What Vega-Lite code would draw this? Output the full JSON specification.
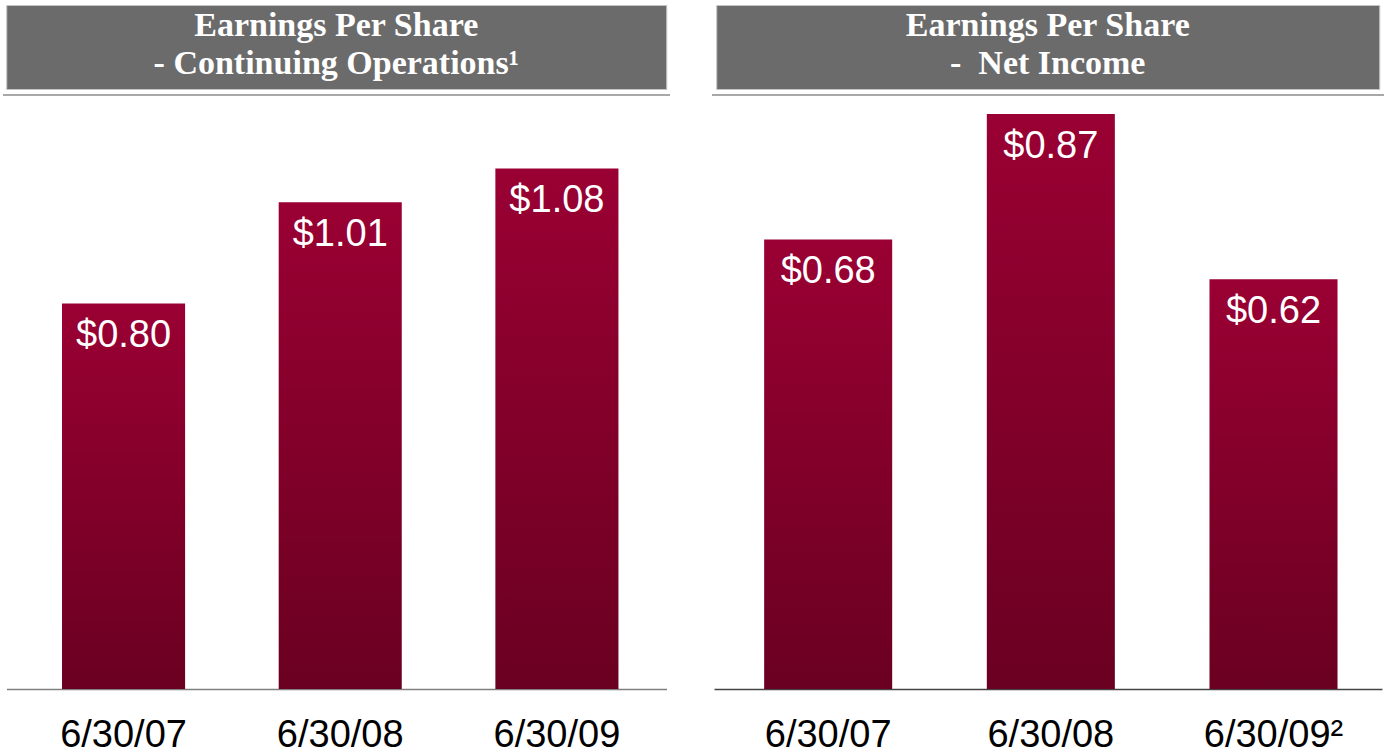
{
  "$schema": "https://vega.github.io/schema/vega-lite/v6.json",
  "background": "white",
  "padding": {"left": 3, "top": 4, "right": 0, "bottom": 0},
  "config": {"view": {"stroke": null}},
  "spacing": 42,
  "hconcat": [
    {
      "spacing": 4,
      "center": true,
      "vconcat": [
        {
          "width": 660,
          "height": 84,
          "view": {"fill": "#6b6b6b", "stroke": "#c4c4c4"},
          "data": {"values": [
            {"line": 1, "text": "Earnings Per Share"},
            {"line": 2, "text": "- Continuing Operations¹"}
          ]},
          "mark": {"type": "text", "font": "Liberation Serif", "fontWeight": "bold", "fontSize": 34, "color": "white", "baseline": "middle", "dy": -2},
          "encoding": {
            "y": {"field": "line", "type": "ordinal", "scale": {"type": "point", "padding": 0.577}, "axis": null},
            "text": {"field": "text", "type": "nominal"}
          }
        },
        {
          "width": 667,
          "height": 2,
          "view": {"fill": "#a8a8a8", "stroke": null},
          "data": {"values": [{"k": 1}]},
          "mark": {"type": "rect", "color": "#a8a8a8"},
          "encoding": {}
        },
        {
          "width": 660,
          "height": 589,
          "data": {"values": [
            {"date": "6/30/07", "eps": 0.80},
            {"date": "6/30/08", "eps": 1.01},
            {"date": "6/30/09", "eps": 1.08}
          ]},
          "encoding": {
            "x": {"field": "date", "type": "nominal", "sort": null,
              "scale": {"paddingInner": 0.432, "paddingOuter": 0.239, "align": 0.536},
              "axis": {"title": null, "labelAngle": 0, "ticks": false, "grid": false, "domainColor": "#808080", "domainWidth": 1.5, "labelFont": "Liberation Sans", "labelFontSize": 38, "labelColor": "#000000", "labelPadding": 27, "labelLimit": 300}},
            "y": {"field": "eps", "type": "quantitative", "scale": {"domain": [0, 1.222], "nice": false}, "axis": null}
          },
          "layer": [
            {"mark": {"type": "bar", "color": {"gradient": "linear", "x1": 0, "y1": 0, "x2": 0, "y2": 1, "stops": [{"offset": 0, "color": "#9a0033"}, {"offset": 1, "color": "#6a0022"}]}}},
            {"mark": {"type": "text", "baseline": "top", "dy": 14, "font": "Liberation Sans", "fontSize": 38, "color": "white"},
             "encoding": {"text": {"field": "eps", "type": "quantitative", "format": "$.2f"}}}
          ]
        }
      ]
    },
    {
      "spacing": 4,
      "center": true,
      "vconcat": [
        {
          "width": 663,
          "height": 84,
          "view": {"fill": "#6b6b6b", "stroke": "#c4c4c4"},
          "data": {"values": [
            {"line": 1, "text": "Earnings Per Share"},
            {"line": 2, "text": "-\u00a0 Net Income"}
          ]},
          "mark": {"type": "text", "font": "Liberation Serif", "fontWeight": "bold", "fontSize": 34, "color": "white", "baseline": "middle", "dy": -2},
          "encoding": {
            "y": {"field": "line", "type": "ordinal", "scale": {"type": "point", "padding": 0.577}, "axis": null},
            "text": {"field": "text", "type": "nominal"}
          }
        },
        {
          "width": 672,
          "height": 2,
          "view": {"fill": "#a8a8a8", "stroke": null},
          "data": {"values": [{"k": 1}]},
          "mark": {"type": "rect", "color": "#a8a8a8"},
          "encoding": {}
        },
        {
          "width": 668,
          "height": 589,
          "data": {"values": [
            {"date": "6/30/07", "eps": 0.68},
            {"date": "6/30/08", "eps": 0.87},
            {"date": "6/30/09²", "eps": 0.62}
          ]},
          "encoding": {
            "x": {"field": "date", "type": "nominal", "sort": null,
              "scale": {"paddingInner": 0.425, "paddingOuter": 0.2125, "align": 0.53},
              "axis": {"title": null, "labelAngle": 0, "ticks": false, "grid": false, "domainColor": "#444444", "domainWidth": 1.5, "labelFont": "Liberation Sans", "labelFontSize": 38, "labelColor": "#000000", "labelPadding": 27, "labelLimit": 300}},
            "y": {"field": "eps", "type": "quantitative", "scale": {"domain": [0, 0.891], "nice": false}, "axis": null}
          },
          "layer": [
            {"mark": {"type": "bar", "color": {"gradient": "linear", "x1": 0, "y1": 0, "x2": 0, "y2": 1, "stops": [{"offset": 0, "color": "#9a0033"}, {"offset": 1, "color": "#6a0022"}]}}},
            {"mark": {"type": "text", "baseline": "top", "dy": 14, "font": "Liberation Sans", "fontSize": 38, "color": "white"},
             "encoding": {"text": {"field": "eps", "type": "quantitative", "format": "$.2f"}}}
          ]
        }
      ]
    }
  ]
}
